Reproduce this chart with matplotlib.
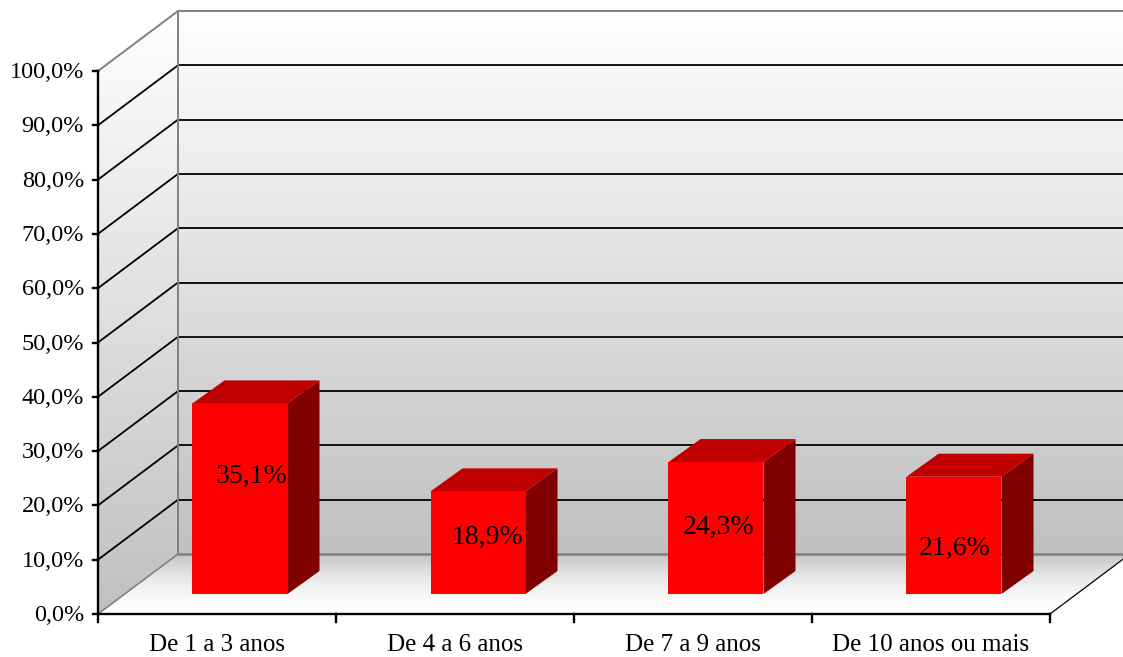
import numpy as np
import matplotlib
matplotlib.use('Agg')
import matplotlib.pyplot as plt
from matplotlib.patches import Polygon
from matplotlib.colors import to_rgb

# data
categories = ['De 1 a 3 anos', 'De 4 a 6 anos', 'De 7 a 9 anos', 'De 10 anos ou mais']
values = [35.1, 18.9, 24.3, 21.6]
value_labels = ['35,1%', '18,9%', '24,3%', '21,6%']
yticks = [0, 10, 20, 30, 40, 50, 60, 70, 80, 90, 100]
ytick_labels = ['0,0%', '10,0%', '20,0%', '30,0%', '40,0%', '50,0%',
                '60,0%', '70,0%', '80,0%', '90,0%', '100,0%']

# label nudges (pixels) to mimic the excel 3d placement
label_nudge = [(12, 22), (9, 5), (3, 1), (1, -13)]

plt.rcParams['font.family'] = ['Liberation Serif', 'DejaVu Serif']

# pixel size of one category / one percent
PX_X = 238.0
PX_Y = 5.43
DX, DY = 80 / PX_X, 60 / PX_Y      # depth of the walls
FX, FY = 23 / PX_X, 20 / PX_Y      # front face of bars inside the floor
BX, BY = 32 / PX_X, 23 / PX_Y      # bar depth
BW = 95 / PX_X                     # bar width
ncat = len(categories)
ymax = yticks[-1]

fig = plt.figure(figsize=(11.23, 6.57), dpi=100)
ax = fig.add_axes([0, 0, 1, 1])
ax.axis('off')


def gradient(poly, extent, c_bottom, c_top, gamma=1.0, z=0):
    t = np.linspace(0, 1, 256) ** gamma
    c0 = np.array(to_rgb(c_bottom))
    c1 = np.array(to_rgb(c_top))
    img = (c0[None, :] * (1 - t[:, None]) + c1[None, :] * t[:, None])[:, None, :]
    im = ax.imshow(img, extent=extent, origin='lower', aspect='auto',
                   interpolation='bilinear', zorder=z)
    p = Polygon(poly, closed=True, facecolor='none', edgecolor='none')
    ax.add_patch(p)
    im.set_clip_path(p)


# back wall
gradient([(DX, DY), (ncat + DX, DY), (ncat + DX, ymax + DY), (DX, ymax + DY)],
         [DX, ncat + DX, DY, ymax + DY], '#c0c0c0', '#ffffff')
# side wall
gradient([(0, 0), (DX, DY), (DX, ymax + DY), (0, ymax)],
         [0, DX, 0, ymax + DY], '#c0c0c0', '#ffffff')
# floor
gradient([(0, 0), (ncat, 0), (ncat + DX, DY), (DX, DY)],
         [0, ncat + DX, 0, DY], '#ffffff', '#c4c4c4', gamma=1.8)

# gridlines
for v in yticks[1:-1]:
    ax.plot([DX, ncat + DX], [v + DY, v + DY], color='black', lw=1.3, zorder=1)
    ax.plot([0, DX], [v, v + DY], color='black', lw=1.3, zorder=1)

# wall borders
gray = '#808080'
ax.plot([DX, ncat + DX], [ymax + DY] * 2, color=gray, lw=1.4, zorder=1)
ax.plot([DX, DX], [DY, ymax + DY], color=gray, lw=1.4, zorder=1)
ax.plot([0, DX], [ymax, ymax + DY], color=gray, lw=1.4, zorder=1)
ax.plot([DX, ncat + DX], [DY, DY], color=gray, lw=1.8, zorder=1)
ax.plot([0, DX], [0, DY], color=gray, lw=1.2, zorder=1)
ax.plot([ncat, ncat + DX], [0, DY], color='black', lw=0.9, zorder=1)

# axes
ax.plot([0, 0], [0, ymax], color='black', lw=1.7, zorder=3)
ax.plot([0, ncat], [0, 0], color='black', lw=1.7, zorder=3)
for v, lab in zip(yticks, ytick_labels):
    ax.plot([-5 / PX_X, 0], [v, v], color='black', lw=1.7, zorder=3)
    ax.text(-14 / PX_X, v - 1.5 / PX_Y, lab, ha='right', va='center', fontsize=17.5)
for i in range(ncat + 1):
    ax.plot([i, i], [0, -8 / PX_Y], color='black', lw=1.7, zorder=3)
for i, c in enumerate(categories):
    ax.text(i + 0.5, -31 / PX_Y, c, ha='center', va='center', fontsize=18)

# bars
for i, v in enumerate(values):
    x0 = i + 0.5 - BW / 2 + FX
    y0 = FY
    front = [(x0, y0), (x0 + BW, y0), (x0 + BW, y0 + v), (x0, y0 + v)]
    top = [(x0, y0 + v), (x0 + BW, y0 + v), (x0 + BW + BX, y0 + v + BY), (x0 + BX, y0 + v + BY)]
    side = [(x0 + BW, y0), (x0 + BW + BX, y0 + BY), (x0 + BW + BX, y0 + v + BY), (x0 + BW, y0 + v)]
    ax.add_patch(Polygon(side, closed=True, facecolor='#800000', edgecolor='none', zorder=4))
    ax.add_patch(Polygon(top, closed=True, facecolor='#c00000', edgecolor='none', zorder=4))
    ax.add_patch(Polygon(front, closed=True, facecolor='#ff0000', edgecolor='none', zorder=4))
    nx, ny = label_nudge[i]
    ax.annotate(value_labels[i], (x0 + BW / 2, y0 + v / 2), xytext=(nx * 0.72, ny * 0.72),
                textcoords='offset points', ha='center', va='center', fontsize=20, zorder=5)

ax.set_xlim(-98 / PX_X, (1123 - 98) / PX_X)
ax.set_ylim(-(657 - 614) / PX_Y, 614 / PX_Y)

fig.savefig('out.png', dpi=100)
